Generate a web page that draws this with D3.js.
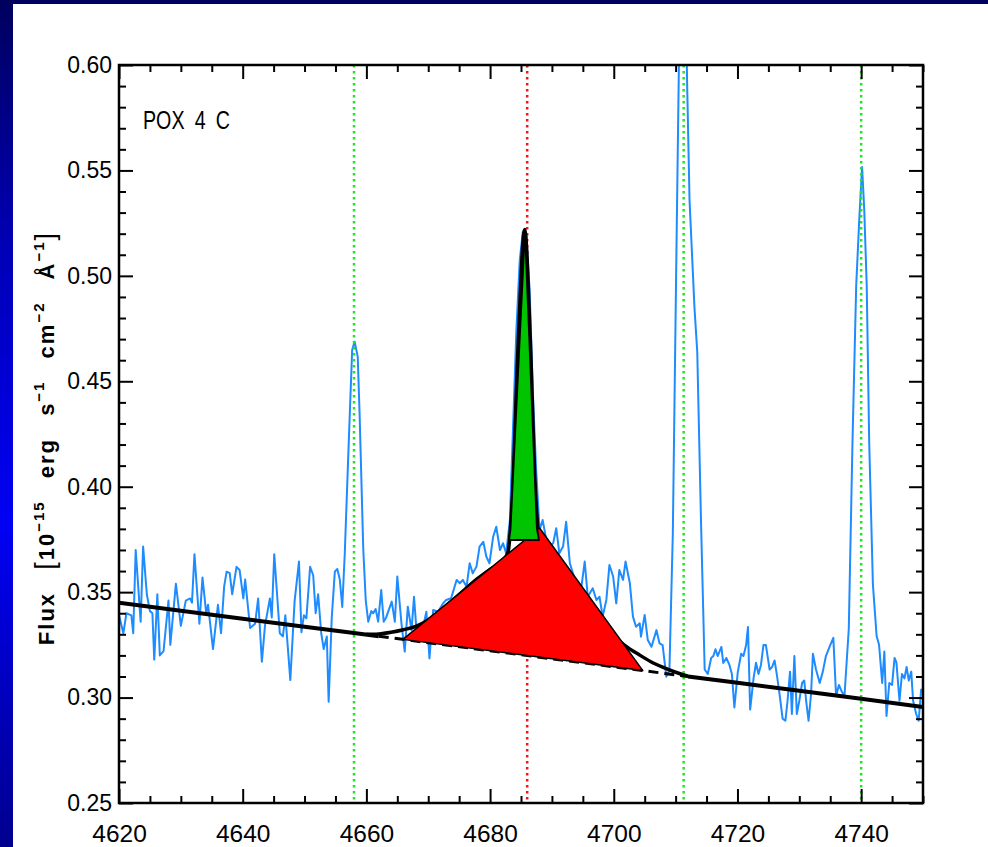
<!DOCTYPE html>
<html><head><meta charset="utf-8">
<script src="https://cdn.jsdelivr.net/npm/d3@7"></script>
<style>html,body{margin:0;padding:0;overflow:hidden;background:#fff}</style>
</head><body>
<svg id="chart" width="988" height="847"></svg>
<script>
// Axis ranges and labels
const xDomain = [4620, 4750];
const yDomain = [0.25, 0.60];
const xTickLabels = [4620, 4640, 4660, 4680, 4700, 4720, 4740];
const yTickLabels = [0.25, 0.30, 0.35, 0.40, 0.45, 0.50, 0.55, 0.60];
const objectName = "POX 4 C";

// Observed spectrum: [wavelength (Å), flux (1e-15 erg/s/cm2/Å)]
const spectrum = [
  [4620.0,0.339],[4620.7,0.3305],[4621.2,0.340],[4622.0,0.339],[4622.3,0.3305],[4622.7,0.370],[4623.5,0.336],[4623.9,0.3716],
  [4624.5,0.349],[4625.0,0.341],[4625.4,0.340],[4625.7,0.318],[4626.2,0.349],[4626.6,0.320],[4627.2,0.322],[4628.0,0.346],
  [4628.3,0.325],[4629.2,0.354],[4630.0,0.334],[4630.8,0.346],[4631.5,0.347],[4631.8,0.345],[4632.2,0.368],[4633.0,0.335],
  [4633.5,0.357],[4634.1,0.340],[4634.4,0.344],[4635.2,0.323],[4636.0,0.344],[4636.5,0.3305],[4637.0,0.3526],[4637.4,0.3597],
  [4637.9,0.359],[4638.3,0.349],[4639.0,0.362],[4639.5,0.3605],[4640.1,0.347],[4640.4,0.356],[4641.2,0.333],[4642.0,0.335],
  [4642.5,0.347],[4643.1,0.317],[4643.6,0.334],[4644.4,0.347],[4644.7,0.338],[4645.1,0.368],[4646.0,0.3305],[4646.5,0.329],
  [4646.9,0.339],[4647.7,0.3083],[4648.4,0.346],[4649.1,0.3645],[4649.5,0.331],[4649.9,0.339],[4650.3,0.3376],[4650.9,0.362],
  [4651.4,0.358],[4651.8,0.340],[4652.2,0.349],[4652.7,0.3305],[4653.1,0.323],[4653.6,0.329],[4653.9,0.298],[4654.4,0.338],
  [4654.9,0.3597],[4655.3,0.361],[4655.7,0.356],[4656.1,0.343],[4656.5,0.368],[4657.2,0.4253],[4657.7,0.4648],[4658.1,0.4688],
  [4658.6,0.4617],[4658.9,0.4348],[4659.5,0.370],[4659.9,0.346],[4660.3,0.336],[4660.8,0.341],[4661.1,0.340],[4661.5,0.342],
  [4661.9,0.336],[4662.4,0.351],[4662.8,0.336],[4663.2,0.338],[4664.1,0.3455],[4664.6,0.336],[4665.0,0.3574],[4665.67,0.3352],
  [4666.2,0.3218],[4666.7,0.3431],[4667.3,0.3320],[4667.7,0.3478],[4668.1,0.3320],[4668.9,0.3297],[4669.7,0.3407],[4670.2,0.3186],
  [4670.8,0.3415],[4671.6,0.3407],[4672.4,0.3447],[4672.9,0.3463],[4673.7,0.3471],[4674.6,0.3558],[4675.1,0.3542],[4675.6,0.3558],
  [4676.2,0.3526],[4676.7,0.3637],[4677.2,0.3589],[4677.8,0.3621],[4678.3,0.3716],[4678.9,0.3739],[4679.4,0.3668],[4679.9,0.3637],
  [4680.5,0.3763],[4681.0,0.3810],[4681.6,0.3700],[4682.1,0.3732],[4682.6,0.3684],[4683.2,0.384],[4683.7,0.427],[4684.25,0.474],
  [4684.8,0.5075],[4685.3,0.521],[4685.85,0.519],[4686.4,0.4933],[4686.9,0.4459],[4687.45,0.408],[4688.0,0.3795],[4688.5,0.3842],
  [4689.1,0.3747],[4689.6,0.3716],[4690.2,0.3732],[4690.7,0.3803],[4691.2,0.3684],[4691.8,0.3716],[4692.3,0.3834],[4692.9,0.3637],
  [4693.4,0.3589],[4693.9,0.3542],[4694.7,0.3510],[4695.3,0.3645],[4695.8,0.3478],[4696.6,0.3518],[4697.2,0.3463],[4697.7,0.3478],
  [4698.2,0.3384],[4698.8,0.3463],[4699.3,0.3629],[4699.9,0.3574],[4700.4,0.3447],[4700.9,0.3605],[4701.5,0.3558],[4701.9,0.3645],
  [4702.6,0.3542],[4703.1,0.3384],[4703.6,0.3336],[4704.2,0.3352],[4704.4,0.3289],[4705.0,0.3392],[4705.5,0.3273],[4706.1,0.3241],
  [4706.9,0.3320],[4707.4,0.3257],[4707.9,0.3249],[4708.5,0.3099],[4709.0,0.3131],[4709.55,0.3781],[4710.1,0.5043],[4710.5,0.593],
  [4710.9,0.675],[4711.4,0.690],[4711.85,0.593],[4712.25,0.536],[4713.05,0.4848],[4713.5,0.4639],[4714.1,0.3842],[4714.7,0.3133],
  [4715.2,0.3112],[4715.75,0.3188],[4716.1,0.3197],[4716.45,0.3229],[4716.8,0.3197],[4717.4,0.3240],[4717.7,0.3164],[4718.2,0.3188],
  [4718.7,0.3155],[4719.1,0.3112],[4719.5,0.2953],[4720.05,0.3121],[4720.6,0.3208],[4720.97,0.3197],[4721.4,0.3249],[4721.7,0.3335],
  [4722.05,0.2943],[4722.6,0.3091],[4723.0,0.3165],[4723.4,0.3112],[4723.8,0.3155],[4724.2,0.3249],[4724.6,0.3249],[4725.2,0.3133],
  [4725.6,0.3145],[4726.0,0.3176],[4726.35,0.3112],[4726.8,0.3017],[4727.3,0.2900],[4727.75,0.2890],[4728.1,0.2985],[4728.5,0.3123],
  [4728.8,0.2922],[4729.2,0.3197],[4729.6,0.2922],[4730.0,0.2985],[4730.45,0.3069],[4730.8,0.3081],[4731.1,0.2985],[4731.5,0.2890],
  [4731.9,0.3017],[4732.2,0.3208],[4732.7,0.3133],[4733.3,0.3069],[4733.8,0.3123],[4734.3,0.3197],[4735.0,0.3249],[4735.5,0.3283],
  [4735.95,0.3007],[4736.4,0.3060],[4736.9,0.3026],[4737.3,0.3007],[4738.0,0.3325],[4738.6,0.4213],[4739.2,0.4954],[4739.7,0.5272],
  [4740.15,0.5516],[4740.5,0.5314],[4740.9,0.4954],[4741.3,0.4213],[4741.9,0.3536],[4742.5,0.3292],[4742.9,0.3249],[4743.4,0.3069],
  [4743.75,0.3218],[4744.1,0.2913],[4744.55,0.3069],[4745.0,0.3060],[4745.4,0.3188],[4745.7,0.3167],[4746.2,0.2985],[4746.6,0.3112],
  [4747.0,0.3091],[4747.35,0.3145],[4747.7,0.3081],[4748.1,0.3123],[4748.4,0.2985],[4748.9,0.2922],[4749.3,0.2890],[4749.7,0.3038],
  [4749.9,0.3026]
];

// Fitted continuum (solid outside the He II feature, dashed beneath it)
const continuumSolidLeft  = [[4620,0.345],[4630,0.3412],[4640,0.3374],[4650,0.3336],[4658,0.3306],[4662,0.3291]];
const continuumDashed     = [[4662,0.3291],[4680,0.3222],[4700,0.3146],[4712,0.3100]];
const continuumSolidRight = [[4712,0.3100],[4720,0.3070],[4730,0.3032],[4740,0.2994],[4750,0.2955]];

// Total fit: continuum + broad + narrow He II components
const totalFit = [
  [4660,0.3300],[4662,0.3302],[4664,0.3310],[4666,0.3322],[4668,0.3338],[4670,0.3368],[4672,0.3412],
  [4674,0.3462],[4676,0.3515],[4678,0.3565],[4680,0.3608],[4682,0.3648],[4682.9,0.3690],[4683.6,0.3950],
  [4684.5,0.4650],[4685.6,0.5220],[4686.5,0.4700],[4687.3,0.4000],[4688,0.3760],[4690,0.3700],[4692,0.3625],
  [4694,0.3545],[4696,0.3465],[4698,0.3385],[4700,0.3295],[4702,0.3243],[4704,0.3205],[4706,0.3170],
  [4708,0.3143],[4710,0.3120],[4712,0.3102]
];

// Schematic components: broad (triangle) and narrow (spike)
const broadComponent  = [[4665.9,0.3276],[4688.0,0.3804],[4704.7,0.3128]];
const narrowComponent = [[4683.05,0.3747],[4683.28,0.3795],[4685.64,0.5222],[4687.58,0.3804],[4687.9,0.3747]];

// Rest wavelengths of marked lines
const nebularLines = [4658.0, 4711.3, 4740.0];
const heIILines = [4686.0];

const W = 988, H = 847;
const margin = {left: 119, right: 923, top: 65, bottom: 803};
const svg = d3.select("#chart");
const font = "'Liberation Sans', Arial, Helvetica, sans-serif";

// Slide background
const defs = svg.append("defs");
const grad = defs.append("linearGradient").attr("id", "bg").attr("x1", 0).attr("y1", 0).attr("x2", 0).attr("y2", 1);
grad.append("stop").attr("offset", "0%").attr("stop-color", "#00005e");
grad.append("stop").attr("offset", "30%").attr("stop-color", "#0000b8");
grad.append("stop").attr("offset", "62%").attr("stop-color", "#0000f4");
grad.append("stop").attr("offset", "100%").attr("stop-color", "#00008e");
svg.append("rect").attr("width", W).attr("height", H).attr("fill", "url(#bg)");
svg.append("rect").attr("x", 13).attr("y", 4).attr("width", W - 13).attr("height", H - 4).attr("fill", "#fff");

defs.append("clipPath").attr("id", "plotClip").append("rect")
  .attr("x", margin.left).attr("y", margin.top)
  .attr("width", margin.right - margin.left).attr("height", margin.bottom - margin.top);

const x = d3.scaleLinear().domain(xDomain).range([margin.left, margin.right]);
const y = d3.scaleLinear().domain(yDomain).range([margin.bottom, margin.top]);

const plot = svg.append("g").attr("clip-path", "url(#plotClip)");
const line = d3.line().x(d => x(d[0])).y(d => y(d[1]));
const smoothLine = d3.line().x(d => x(d[0])).y(d => y(d[1])).curve(d3.curveMonotoneX);

// Spectrum
plot.append("path").datum(spectrum).attr("d", line)
  .attr("fill", "none").attr("stroke", "#1e8cff").attr("stroke-width", 2).attr("stroke-linejoin", "round");

// Vertical dotted line markers
plot.selectAll(".neb").data(nebularLines).join("line")
  .attr("x1", d => x(d)).attr("x2", d => x(d)).attr("y1", margin.top).attr("y2", margin.bottom)
  .attr("stroke", "#1ee61e").attr("stroke-width", 2.5).attr("stroke-dasharray", "2.5,3.5");
plot.selectAll(".heii").data(heIILines).join("line")
  .attr("x1", d => x(d)).attr("x2", d => x(d)).attr("y1", margin.top).attr("y2", margin.bottom)
  .attr("stroke", "#f01414").attr("stroke-width", 2.5).attr("stroke-dasharray", "2.5,3.5");

// Continuum and total fit
plot.append("path").datum(continuumSolidLeft).attr("d", line)
  .attr("fill", "none").attr("stroke", "#000").attr("stroke-width", 4);
plot.append("path").datum(continuumDashed).attr("d", line)
  .attr("fill", "none").attr("stroke", "#000").attr("stroke-width", 3).attr("stroke-dasharray", "10,6");
plot.append("path").datum(continuumSolidRight).attr("d", line)
  .attr("fill", "none").attr("stroke", "#000").attr("stroke-width", 4);
plot.append("path").datum(totalFit).attr("d", smoothLine)
  .attr("fill", "none").attr("stroke", "#000").attr("stroke-width", 3.5);

// Broad and narrow components
plot.append("path").datum(broadComponent).attr("d", d => line(d) + "Z")
  .attr("fill", "#ff0000").attr("stroke", "#000").attr("stroke-width", 1.5).attr("stroke-linejoin", "round");
plot.append("path").datum(narrowComponent).attr("d", d => line(d) + "Z")
  .attr("fill", "#00c400").attr("stroke", "#000").attr("stroke-width", 2).attr("stroke-linejoin", "round");

// Frame and ticks
const xMinor = d3.range(4620, 4751, 5).filter(v => v % 20 !== 0);
const yMinor = d3.range(25, 61, 1).filter(v => v % 5 !== 0).map(v => v / 100);

function styleAxis(g) {
  g.select(".domain").remove();
  g.selectAll(".tick line").attr("stroke", "#000").attr("stroke-width", 2);
  g.selectAll("text").attr("font-family", font).attr("fill", "#000");
}

svg.append("g").attr("transform", `translate(0,${margin.bottom})`)
  .call(d3.axisBottom(x).tickValues(xTickLabels).tickSize(-14).tickPadding(22).tickFormat(d3.format("d")))
  .call(styleAxis).selectAll("text").attr("font-size", 24.5);
svg.append("g").attr("transform", `translate(0,${margin.bottom})`)
  .call(d3.axisBottom(x).tickValues(xMinor).tickSize(-7).tickFormat(""))
  .call(styleAxis);
svg.append("g").attr("transform", `translate(0,${margin.top})`)
  .call(d3.axisTop(x).tickValues(xTickLabels).tickSize(-14).tickFormat(""))
  .call(styleAxis);
svg.append("g").attr("transform", `translate(0,${margin.top})`)
  .call(d3.axisTop(x).tickValues(xMinor).tickSize(-7).tickFormat(""))
  .call(styleAxis);

svg.append("g").attr("transform", `translate(${margin.left},0)`)
  .call(d3.axisLeft(y).tickValues(yTickLabels).tickSize(-14).tickPadding(7).tickFormat(d3.format(".2f")))
  .call(styleAxis).selectAll("text").attr("font-size", 23);
svg.append("g").attr("transform", `translate(${margin.left},0)`)
  .call(d3.axisLeft(y).tickValues(yMinor).tickSize(-7).tickFormat(""))
  .call(styleAxis);
svg.append("g").attr("transform", `translate(${margin.right},0)`)
  .call(d3.axisRight(y).tickValues(yTickLabels).tickSize(-14).tickFormat(""))
  .call(styleAxis);
svg.append("g").attr("transform", `translate(${margin.right},0)`)
  .call(d3.axisRight(y).tickValues(yMinor).tickSize(-7).tickFormat(""))
  .call(styleAxis);

svg.append("rect")
  .attr("x", margin.left).attr("y", margin.top)
  .attr("width", margin.right - margin.left).attr("height", margin.bottom - margin.top)
  .attr("fill", "none").attr("stroke", "#000").attr("stroke-width", 2.5);

// Object label
svg.append("text").attr("x", 143).attr("y", 129)
  .attr("font-family", font).attr("font-size", 25).attr("textLength", 87).attr("lengthAdjust", "spacingAndGlyphs")
  .attr("word-spacing", 6)
  .text(objectName);

// Y-axis title
const yt = svg.append("text")
  .attr("transform", `translate(54,438) rotate(-90)`)
  .attr("text-anchor", "middle").attr("font-family", font).attr("font-size", 22).attr("font-weight", "bold")
  .attr("letter-spacing", 2).attr("word-spacing", 14);
yt.append("tspan").text("Flux ");
yt.append("tspan").attr("font-size", 27).attr("font-weight", "normal").text("[");
yt.append("tspan").text("10");
yt.append("tspan").attr("font-size", 15).attr("dy", -10).text("\u221215");
yt.append("tspan").attr("dy", 10).text(" erg s");
yt.append("tspan").attr("font-size", 15).attr("dy", -10).text("\u22121");
yt.append("tspan").attr("dy", 10).text(" cm");
yt.append("tspan").attr("font-size", 15).attr("dy", -10).text("\u22122");
yt.append("tspan").attr("dy", 10).text(" \u00c5");
yt.append("tspan").attr("font-size", 15).attr("dy", -10).text("\u22121");
yt.append("tspan").attr("dy", 10).attr("font-size", 27).attr("font-weight", "normal").text("]");
</script>
</body></html>
